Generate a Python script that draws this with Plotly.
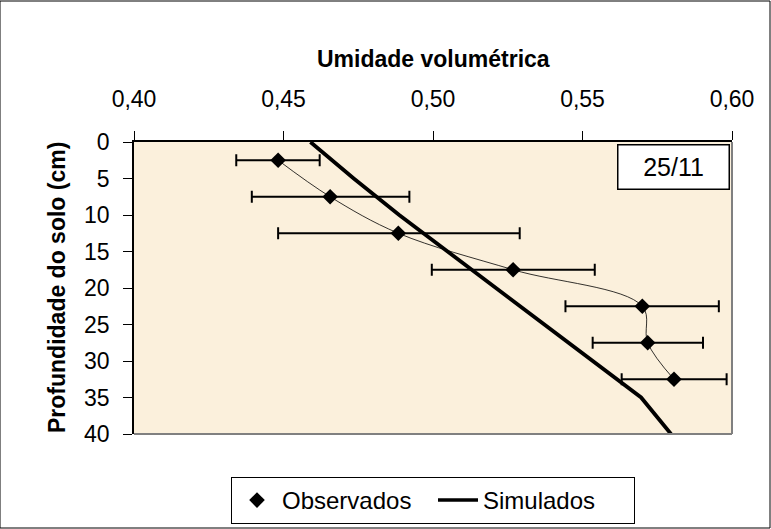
import plotly.graph_objects as go

depth_obs = [2.5, 7.5, 12.5, 17.5, 22.5, 27.5, 32.5]
theta_obs = [0.4482, 0.4656, 0.4884, 0.5268, 0.5700, 0.5718, 0.5806]
err_plus = [0.0139, 0.0265, 0.0406, 0.0273, 0.0256, 0.0185, 0.0176]
err_minus = [0.0140, 0.0262, 0.0402, 0.0272, 0.0257, 0.0184, 0.0175]

depth_sim = [0, 5, 10, 15, 20, 25, 30, 35, 40]
theta_sim = [0.459, 0.4735, 0.4887, 0.5048, 0.5210, 0.5370, 0.5535, 0.5696, 0.5796]

x_ticks = [0.40, 0.45, 0.50, 0.55, 0.60]
x_tick_labels = ["0,40", "0,45", "0,50", "0,55", "0,60"]
y_ticks = [0, 5, 10, 15, 20, 25, 30, 35, 40]

FONT = "Liberation Sans, Arial, sans-serif"
L, R, T, B = 134, 39, 142, 95
PW, PH = 771 - L - R, 529 - T - B

fig = go.Figure()
fig.add_trace(go.Scatter(
    x=theta_obs, y=depth_obs, name="Observados", showlegend=False,
    mode="lines+markers",
    line=dict(color="black", width=0.8, shape="spline"),
    marker=dict(symbol="diamond", size=12, color="black"),
    error_x=dict(type="data", symmetric=False, array=err_plus, arrayminus=err_minus,
                 color="black", thickness=2, width=6),
))
fig.add_trace(go.Scatter(
    x=theta_sim, y=depth_sim, name="Simulados", showlegend=False,
    mode="lines",
    line=dict(color="black", width=3.8),
))
# legend entries
fig.add_trace(go.Scatter(x=[None], y=[None], name="Observados", mode="markers",
                         marker=dict(symbol="diamond", size=12, color="black")))
fig.add_trace(go.Scatter(x=[None], y=[None], name="Simulados", mode="lines",
                         line=dict(color="black", width=3.5)))

fig.update_layout(
    width=771, height=529,
    margin=dict(l=L, r=R, t=T, b=B, autoexpand=False),
    paper_bgcolor="white",
    plot_bgcolor="#FBF0DC",
    font=dict(family=FONT, size=23, color="black"),
    showlegend=True,
    legend=dict(
        orientation="h", x=(433 - L) / PW, xanchor="center", y=-43 / PH, yanchor="top",
        bgcolor="white", bordercolor="black", borderwidth=1,
        font=dict(family=FONT, size=24), itemwidth=40,
        entrywidth=146, entrywidthmode="pixels",
        traceorder="normal",
    ),
    xaxis=dict(
        side="top", range=[0.40, 0.60], tickvals=x_ticks, ticktext=x_tick_labels,
        ticks="outside", ticklen=9, tickcolor="black", showgrid=False, zeroline=False,
        showline=True, linecolor="black", linewidth=1.5, mirror=False,
        ticklabelstandoff=15, automargin=False,
        tickfont=dict(family=FONT, size=23),
    ),
    yaxis=dict(
        range=[40, 0], tickvals=y_ticks,
        ticks="outside", ticklen=9, tickcolor="black", showgrid=False, zeroline=False,
        showline=True, linecolor="black", linewidth=1.5,
        ticklabelstandoff=9, automargin=False,
        tickfont=dict(family=FONT, size=23),
    ),
    shapes=[
        dict(type="line", xref="paper", yref="paper", x0=1, x1=1, y0=0, y1=1,
             line=dict(color="#808080", width=2)),
        dict(type="line", xref="paper", yref="paper", x0=0, x1=1, y0=0, y1=0,
             line=dict(color="#808080", width=2)),
        dict(type="rect", xref="paper", yref="paper",
             x0=-L / PW, x1=1 + (R - 1) / PW, y0=-(B - 1) / PH, y1=1 + (T - 1) / PH,
             line=dict(color="black", width=1)),
    ],
    annotations=[
        dict(text="<b>Umidade volumétrica</b>", xref="paper", yref="paper",
             x=(433 - L) / PW, y=(434 - 59) / PH, xanchor="center", yanchor="middle",
             showarrow=False, font=dict(family=FONT, size=23)),
        dict(text="<b>Profundidade do solo (cm)</b>", xref="paper", yref="paper",
             x=(57 - L) / PW, y=0.5, xanchor="center", yanchor="middle", textangle=-90,
             showarrow=False, font=dict(family=FONT, size=23)),
        dict(text="25/11", xref="paper", yref="paper",
             x=(730 - L) / PW, y=(434 - 144) / PH,
             xanchor="right", yanchor="top", showarrow=False,
             font=dict(family=FONT, size=25), bgcolor="white",
             bordercolor="black", borderwidth=1.5, width=108, height=41),
    ],
)

fig.write_html("out.html")
